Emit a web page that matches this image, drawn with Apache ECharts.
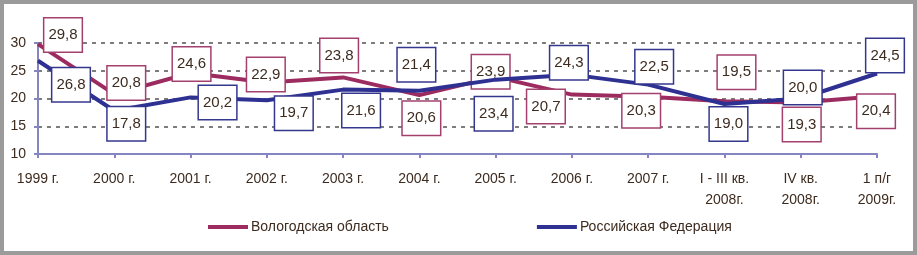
<!DOCTYPE html>
<html><head><meta charset="utf-8">
<script src="https://cdn.jsdelivr.net/npm/echarts@6/dist/echarts.min.js"></script>
<style>
html,body{margin:0;padding:0;background:#9b9b9b;width:917px;height:255px;overflow:hidden}
#c{position:absolute;left:0;top:0;width:917px;height:255px}
#w{position:absolute;left:4px;top:4px;width:909px;height:247px;background:#fff}
</style></head>
<body><div id="w"></div><div id="c"></div>
<script>
const categories = ['1999 г.','2000 г.','2001 г.','2002 г.','2003 г.','2004 г.','2005 г.','2006 г.','2007 г.','I - III кв.\n2008г.','IV кв.\n2008г.','1 п/г\n2009г.'];
const vologda = [29.8,20.8,24.6,22.9,23.8,20.6,23.9,20.7,20.3,19.5,19.3,20.4];
const russia = [26.8,17.8,20.2,19.7,21.6,21.4,23.4,24.3,22.5,19.0,20.0,24.5];
const seriesNames = ['Вологодская область','Российская Федерация'];
const yTicks = {min:10,max:30,interval:5};

// label placement offsets (px) relative to the data point
const volOffsets = [[25,-9],[12,-11],[1,-9],[-1,-8],[-4,-22],[2,23],[-5,-5],[-26,12],[-7,14],[12,-29],[1,22],[-1,15]];
const rusOffsets = [[33,24],[12,13],[27,5],[27,13],[18,21],[-3,-26],[-2,34],[-3,-12],[6,-18],[4,20],[2,-11],[8,-18]];

const txt = '#3d2b1f';
const font = '"Liberation Sans", Arial, sans-serif';
const volColor = '#9c2c60', rusColor = '#2e3192';
const volBorder = '#a3406e', rusBorder = '#34378e';

function mkData(vals, offs, border){
  return vals.map((v,i)=>({value:v,label:{offset:offs[i],borderColor:border}}));
}
function fmt(p){ return String(p.value.toFixed(1)).replace('.',','); }
const labelBase = {show:true,position:'inside',formatter:fmt,color:txt,fontSize:15,fontFamily:font,
  backgroundColor:'#fff',borderWidth:1.5,padding:[8,4,8,4],lineHeight:17,align:'center',verticalAlign:'middle'};

const chart = echarts.init(document.getElementById('c'),null,{renderer:'canvas'});
chart.setOption({
  animation:false,
  textStyle:{fontFamily:font},
  grid:{left:38,right:40,top:43,bottom:101,containLabel:false},
  legend:{left:208,top:220,padding:0,itemWidth:40,itemHeight:4,itemGap:148,icon:'rect',
    textStyle:{color:txt,fontSize:14,fontFamily:font,padding:[0,0,0,-2]},
    data:seriesNames},
  xAxis:{type:'category',data:categories,boundaryGap:false,
    axisLine:{lineStyle:{color:'#8585c4',width:2}},
    axisTick:{show:true,alignWithLabel:true,length:4,lineStyle:{color:'#8585c4',width:2}},
    axisLabel:{color:txt,fontSize:14,fontFamily:font,margin:15,lineHeight:21,interval:0},
    splitLine:{show:false}},
  yAxis:{type:'value',min:yTicks.min,max:yTicks.max,interval:yTicks.interval,
    axisLine:{show:true,lineStyle:{color:'#8585c4',width:2}},
    axisTick:{show:true,length:4,lineStyle:{color:'#8585c4',width:2}},
    axisLabel:{color:txt,fontSize:14,fontFamily:font,margin:12,formatter:v=>String(v)},
    splitLine:{show:true,lineStyle:{color:'#7d7d7d',width:2,type:[4,5]}}},
  series:[
    {name:seriesNames[0],type:'line',data:mkData(vologda,volOffsets,volBorder),
     symbol:'circle',symbolSize:1,showSymbol:true,
     lineStyle:{color:volColor,width:4},itemStyle:{color:volColor},
     label:Object.assign({},labelBase,{borderColor:volBorder}),z:3},
    {name:seriesNames[1],type:'line',data:mkData(russia,rusOffsets,rusBorder),
     symbol:'circle',symbolSize:1,showSymbol:true,
     lineStyle:{color:rusColor,width:4},itemStyle:{color:rusColor},
     label:Object.assign({},labelBase,{borderColor:rusBorder}),z:4}
  ]
});
</script></body></html>
